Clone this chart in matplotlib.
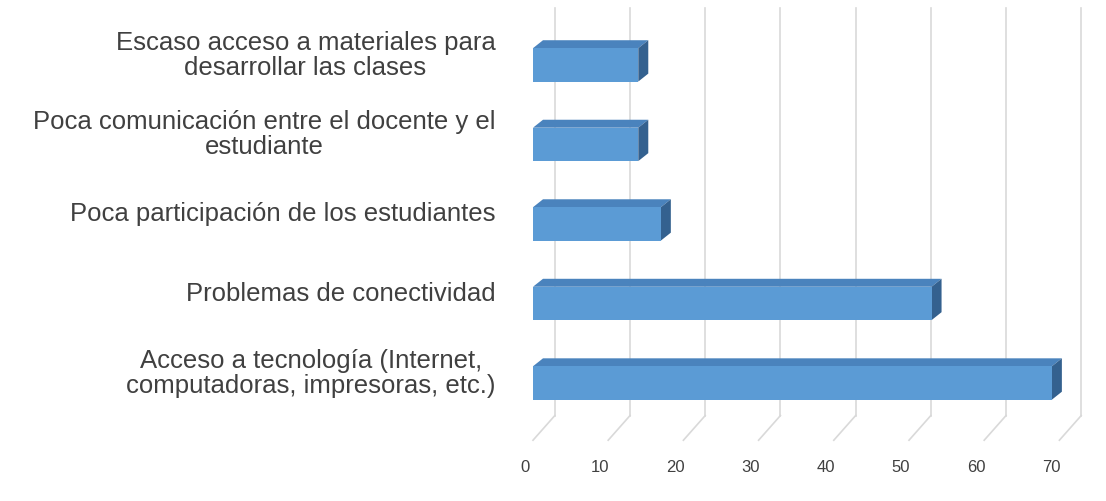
import matplotlib
matplotlib.use("Agg")
import matplotlib.pyplot as plt
from matplotlib.patches import Polygon, Rectangle

categories = ["Acceso a tecnología (Internet,\ncomputadoras, impresoras, etc.)",
              "Problemas de conectividad",
              "Poca participación de los estudiantes",
              "Poca comunicación entre el docente y el\nestudiante",
              "Escaso acceso a materiales para\ndesarrollar las clases"]
values = [69, 53, 17, 14, 14]
ticks = [0, 10, 20, 30, 40, 50, 60, 70]

plt.rcParams['font.family'] = ['Liberation Sans', 'DejaVu Sans']
fig = plt.figure(figsize=(11.06, 5.01), dpi=100)
ax = fig.add_axes([533/1106, 1-445/501, (1090-533)/1106, 435/501])
ax.set_xlim(0, 74.07)
ax.set_ylim(-0.78, 4.69)
ax.axis('off')

gdx, gdy = 2.9, 0.31
floor_front, floor_back = -0.72, -0.41
for t in ticks:
    ax.plot([t + gdx, t + gdx], [floor_back, 4.72], color='#d9d9d9', lw=1.2, zorder=1, clip_on=False)
    ax.plot([t, t + gdx], [floor_front, floor_back], color='#d9d9d9', lw=1.2, zorder=1, clip_on=False)
    ax.text(t - 1.06, -1.06, str(t), ha='center', va='center', fontsize=12, color='#404040', clip_on=False)

h, dx, dy = 0.42, 1.33, 0.1
for i, v in enumerate(values):
    y0 = i - h / 2
    ax.add_patch(Polygon([(0, y0 + h), (v, y0 + h), (v + dx, y0 + h + dy), (dx, y0 + h + dy)],
                         closed=True, fc='#4a83bd', ec='none', zorder=3))
    ax.add_patch(Polygon([(v, y0), (v + dx, y0 + dy), (v + dx, y0 + h + dy), (v, y0 + h)],
                         closed=True, fc='#34618f', ec='none', zorder=3))
    ax.add_patch(Rectangle((0, y0), v, h, fc='#5b9bd5', ec='none', zorder=4))
    ax.text(-5.0, i + 0.12, categories[i], ha='right', va='center', multialignment='center',
            fontsize=18.5, color='#404040', clip_on=False, linespacing=1.05)

fig.savefig("out.png", dpi=100)
